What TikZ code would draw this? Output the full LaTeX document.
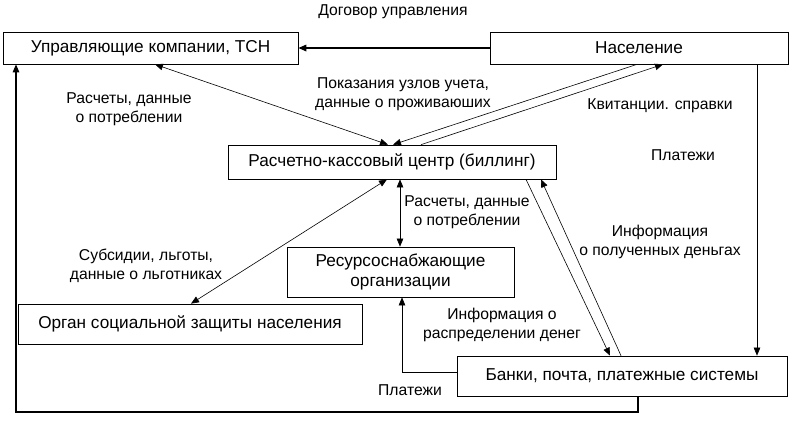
\documentclass[tikz,border=0pt]{standalone}
\usepackage{fontspec}
\setmainfont{Liberation Sans}
\usetikzlibrary{arrows.meta}

\tikzset{
    box/.style={draw, line width=0.7pt, inner sep=0pt, font=\fontsize{17.2}{20}\selectfont, align=center},
    lbl/.style={font=\fontsize{15.7}{18.5}\selectfont, align=center, inner sep=1pt},
    link/.style={line width=0.6pt, -{Triangle[length=8pt,width=6.5pt]}},
    both/.style={line width=0.6pt, {Triangle[length=8pt,width=6.5pt]}-{Triangle[length=8pt,width=6.5pt]}}
}

\begin{document}
\begin{tikzpicture}[x=1pt, y=-1pt]
            \useasboundingbox (0, 0) rectangle (791, 421);

            % Boxes
            \node (uk) at (150.5, 48) [box, minimum width=295, minimum height=32] {Управляющие компании, ТСН};
            \node (nas) at (639, 48) [box, minimum width=298, minimum height=32] {Население};
            \node (rkc) at (392, 162) [box, minimum width=328, minimum height=34] {Расчетно-кассовый центр (биллинг)};
            \node (res) at (400.5, 272) [box, minimum width=227, minimum height=50] {Ресурсоснабжающие\\организации};
            \node (org) at (190, 324) [box, minimum width=344, minimum height=40] {Орган социальной защиты населения};
            \node (bank) at (622, 376) [box, minimum width=330, minimum height=40] {Банки, почта, платежные системы};

            % Top row
            \draw [link, line width=1.6pt] (nas.west) -- (uk.east);
            \node (dog) at (393, 12) [lbl] {Договор управления};

            % Billing links
            \draw [both] (uk.south -| 155,0) -- (rkc.north -| 388,0);
            \node (l1) at (129, 109) [lbl] {Расчеты, данные\\о потреблении};

            \draw [link] (nas.south -| 637,0) -- (rkc.north -| 393,0);
            \draw [link] (rkc.north -| 421,0) -- (nas.south -| 663,0);
            \node (l2) at (403, 94) [lbl] {Показания узлов учета,\\данные о проживаюших};
            \node (l3) at (660, 106) [lbl] {Квитанции. справки};

            \draw [link] (nas.south -| 757,0) -- (bank.north -| 757,0);
            \node (l4) at (683, 155) [lbl] {Платежи};

            \draw [both] (rkc.south -| 400,0) -- (res.north -| 400,0);
            \node (l5) at (467, 212) [lbl] {Расчеты, данные\\о потреблении};

            \draw [both] (rkc.south -| 387,0) -- (org.north -| 191,0);
            \node (l6) at (146, 266) [lbl] {Субсидии, льготы,\\данные о льготниках};

            \draw [link] (rkc.south -| 526,0) -- (bank.north -| 610,0);
            \draw [link] (bank.north -| 621,0) -- (rkc.south -| 541,0);
            \node (l7) at (660, 242) [lbl] {Информация\\о полученных деньгах};

            % Money flows
            \draw [link] (bank.west |- 0,372) -| (res.south -| 402,0);
            \node (l8) at (502, 325) [lbl] {Информация о\\распределении денег};

            \draw [link, line width=1.2pt] (bank.south -| 638,0) -- (638, 412) -| (uk.south -| 16,0);
            \node (l9) at (410, 390) [lbl] {Платежи};
        \end{tikzpicture}
\end{document}
